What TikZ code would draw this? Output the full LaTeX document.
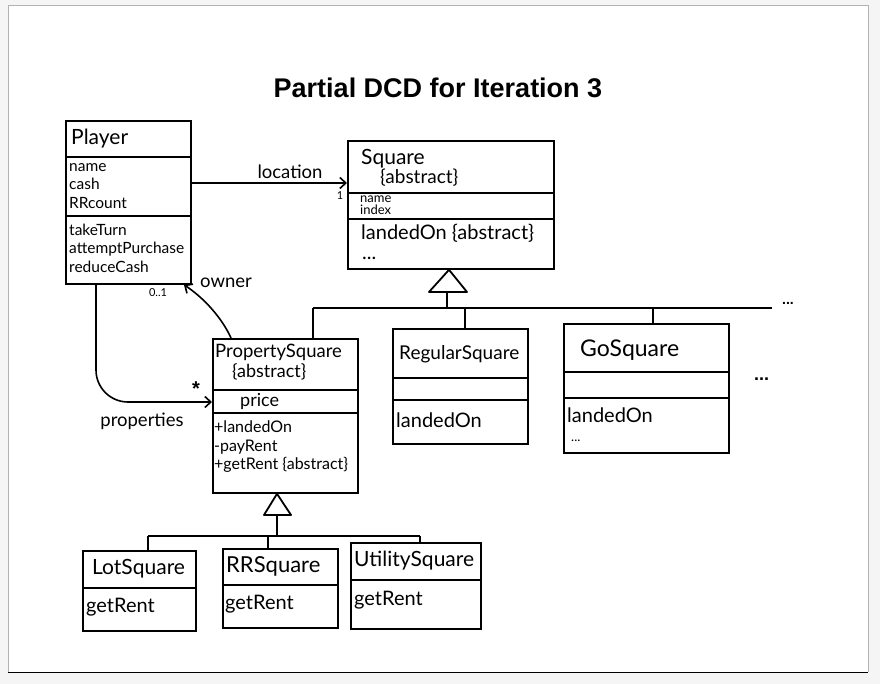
\documentclass[tikz,border=0pt]{standalone}
\usepackage{fontspec}
\setmainfont{Liberation Sans}
\newfontfamily\handfont{Lato}
\usetikzlibrary{arrows.meta,positioning}
\tikzset{
  classbox/.style={draw=black, line width=1.8pt, inner sep=0pt, anchor=north west},
  divider/.style={black, line width=1.8pt},
  inherit/.style={black, line width=1.8pt, line join=round},
  assoc/.style={black, line width=1.6pt, -{Straight Barb[length=6pt,width=11pt]}},
  cname/.style={anchor=west, inner sep=0pt, font=\handfont\fontsize{21}{24}\selectfont},
  members/.style={anchor=west, align=left, inner sep=0pt, font=\handfont\fontsize{15.5}{18.5}\selectfont},
  bigmembers/.style={members, font=\handfont\fontsize{20}{22}\selectfont},
  smallmembers/.style={members, font=\handfont\fontsize{13}{11.5}\selectfont},
  rolename/.style={inner sep=0pt, font=\handfont\fontsize{18.5}{20}\selectfont},
  title/.style={font=\bfseries\fontsize{27}{30}\selectfont}
}

\begin{document}
\begin{tikzpicture}[x=1pt,y=-1pt]
  \useasboundingbox (0,0) rectangle (880,684);
  \fill[gray!8] (0,0) rectangle (880,684);
  \fill[white] (8,5) rectangle (868,672);
  \draw[gray!60,line width=0.8pt] (8,672) -- (8,5) -- (868,5) -- (868,672);
  \draw[black,line width=0.8pt] (8,672) -- (868,672);

  \node[title] (title) at (438,88) {Partial DCD for Iteration 3};

  % Player
  \node[classbox,minimum width=125,minimum height=163] (player) at (65,120) {};
  \draw[divider] (player.west |- 0,157) -- (player.east |- 0,157);
  \draw[divider] (player.west |- 0,216) -- (player.east |- 0,216);
  \node[cname] (playerN) at (71,139) {Player};
  \node[members] (playerA) at (69,186) {name\\cash\\RRcount};
  \node[members] (playerO) at (69,248) {takeTurn\\attemptPurchase\\reduceCash};

  % Square
  \node[classbox,minimum width=206,minimum height=128] (square) at (347,140) {};
  \draw[divider] (square.west |- 0,193) -- (square.east |- 0,193);
  \draw[divider] (square.west |- 0,219) -- (square.east |- 0,219);
  \node[cname] (squareN) at (361,159) {Square};
  \node[members,font=\handfont\fontsize{19}{20}\selectfont] (squareS) at (380,178) {\{abstract\}};
  \node[smallmembers] (squareA) at (360,205) {name\\index};
  \node[bigmembers] (squareO) at (361,233) {landedOn \{abstract\}};
  \node[bigmembers] (squareD) at (362,258) {...};

  % PropertySquare
  \node[classbox,minimum width=145,minimum height=154] (psq) at (212,338) {};
  \draw[divider] (psq.west |- 0,390) -- (psq.east |- 0,390);
  \draw[divider] (psq.west |- 0,413) -- (psq.east |- 0,413);
  \node[cname,font=\handfont\fontsize{18.5}{20}\selectfont] (psqN) at (215,352) {PropertySquare};
  \node[members,font=\handfont\fontsize{18}{20}\selectfont] (psqS) at (232,372) {\{abstract\}};
  \node[members,font=\handfont\fontsize{18}{20}\selectfont] (psqA) at (240,401) {price};
  \node[members,font=\handfont\fontsize{16}{18.5}\selectfont] (psqO) at (214,447) {+landedOn\\-payRent\\+getRent \{abstract\}};

  % RegularSquare
  \node[classbox,minimum width=135,minimum height=115] (regsq) at (392,328) {};
  \draw[divider] (regsq.west |- 0,378) -- (regsq.east |- 0,378);
  \draw[divider] (regsq.west |- 0,400) -- (regsq.east |- 0,400);
  \node[cname,font=\handfont\fontsize{19}{20}\selectfont] (regsqN) at (399,354) {RegularSquare};
  \node[bigmembers] (regsqO) at (396,420) {landedOn};

  % GoSquare
  \node[classbox,minimum width=165,minimum height=129] (gosq) at (563,323) {};
  \draw[divider] (gosq.west |- 0,372) -- (gosq.east |- 0,372);
  \draw[divider] (gosq.west |- 0,398) -- (gosq.east |- 0,398);
  \node[cname,font=\handfont\fontsize{23}{24}\selectfont] (gosqN) at (580,350) {GoSquare};
  \node[bigmembers] (gosqO) at (567,415) {landedOn};
  \node[smallmembers] (gosqD) at (571,441) {...};

  % LotSquare, RRSquare, UtilitySquare
  \node[classbox,minimum width=113,minimum height=80] (lotsq) at (82,550) {};
  \draw[divider] (lotsq.west |- 0,588) -- (lotsq.east |- 0,588);
  \node[cname] (lotsqN) at (92,569) {LotSquare};
  \node[bigmembers] (lotsqO) at (86,607) {getRent};

  \node[classbox,minimum width=115,minimum height=79] (rrsq) at (222,548) {};
  \draw[divider] (rrsq.west |- 0,585) -- (rrsq.east |- 0,585);
  \node[cname,font=\handfont\fontsize{22}{24}\selectfont] (rrsqN) at (226,566) {RRSquare};
  \node[bigmembers] (rrsqO) at (225,604) {getRent};

  \node[classbox,minimum width=130,minimum height=86] (utilsq) at (350,542) {};
  \draw[divider] (utilsq.west |- 0,580) -- (utilsq.east |- 0,580);
  \node[cname] (utilsqN) at (354,561) {UtilitySquare};
  \node[bigmembers] (utilsqO) at (354,600) {getRent};

  % generalization to Square
  \draw[inherit] (square.south -| 449,0) -- (467,292) -- (429,292) -- cycle;
  \draw[inherit] (447,292) -- (447,308);
  \draw[inherit] (313,308) -- (772,308);
  \draw[inherit] (313,308) -- (psq.north -| 313,0);
  \draw[inherit] (465,308) -- (regsq.north -| 465,0);
  \draw[inherit] (653,308) -- (gosq.north -| 653,0);
  \node[members,font=\bfseries\fontsize{14}{14}\selectfont] (busdots) at (782,303) {...};
  \node[members,font=\bfseries\fontsize{18}{18}\selectfont] (moredots) at (754,379) {...};

  % generalization to PropertySquare
  \draw[inherit] (psq.south -| 277,0) -- (291,515) -- (264,515) -- cycle;
  \draw[inherit] (277,515) -- (277,536);
  \draw[inherit] (148,536) -- (420,536);
  \draw[inherit] (148,536) -- (lotsq.north -| 148,0);
  \draw[inherit] (268,536) -- (rrsq.north -| 268,0);
  \draw[inherit] (420,536) -- (utilsq.north -| 420,0);

  % associations
  \draw[assoc] (player.east |- 0,183) -- (square.west |- 0,183);
  \node[rolename] (locL) at (290,172) {location};
  \node[rolename,font=\handfont\fontsize{11}{11}\selectfont] (locM) at (340,196) {1};

  \draw[assoc] (psq.north -| 231,0) .. controls (222,318) and (204,298) .. (player.south -| 184,0);
  \node[rolename] (ownL) at (226,283) {owner};
  \node[rolename,font=\handfont\fontsize{11}{11}\selectfont] (ownM) at (158,293) {0..1};

  \draw[assoc,rounded corners=32pt] (player.south -| 96,0) -- (96,402) -- (psq.west |- 0,402);
  \node[rolename] (propL) at (142,421) {properties};
  \node[rolename,font=\bfseries\fontsize{20}{20}\selectfont] (propM) at (196,389) {*};
\end{tikzpicture}
\end{document}
